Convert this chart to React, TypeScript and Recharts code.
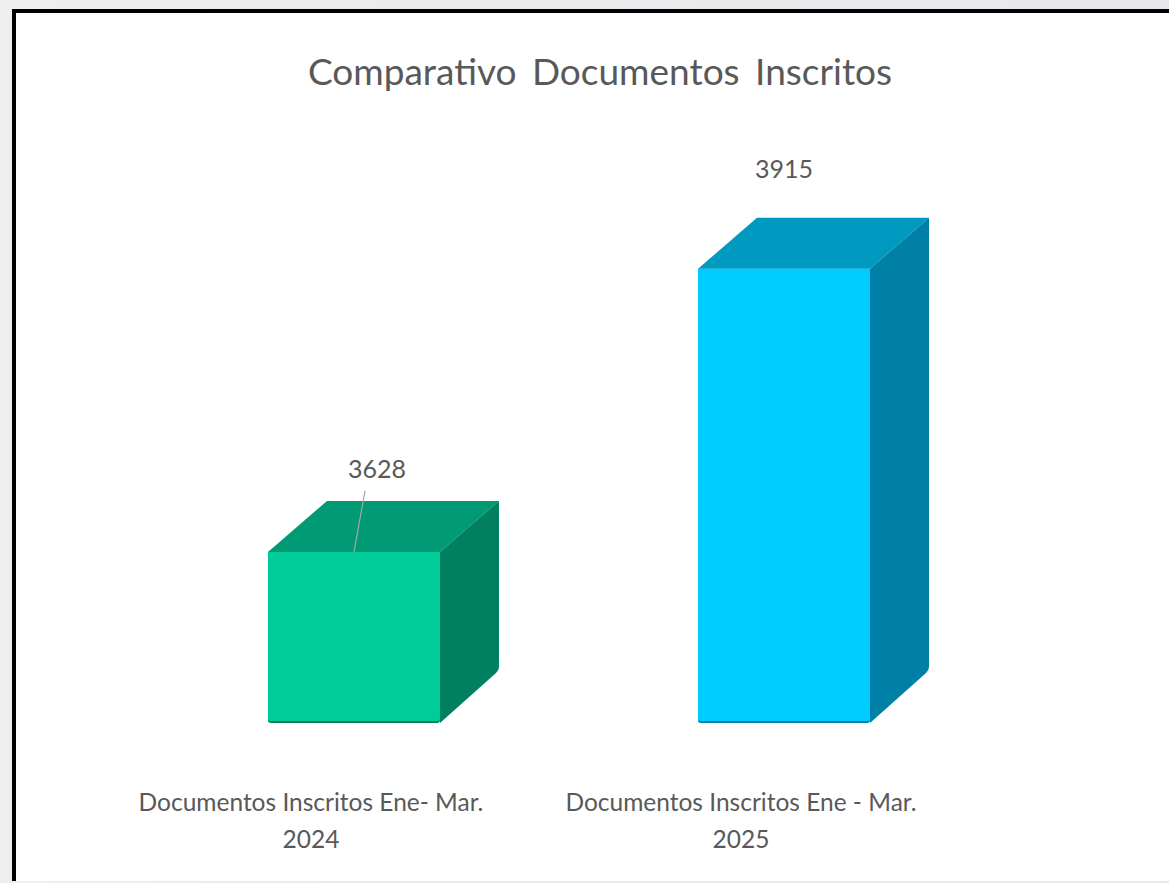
import React from "react";
import { BarChart, Bar, XAxis, YAxis } from "recharts";

const categories = ["Documentos Inscritos Ene- Mar. 2024", "Documentos Inscritos Ene - Mar. 2025"];
const values = [3628, 3915];

const FRONT = ["#00CC99", "#00CCFF"];
const TOP = ["#009A74", "#0099BF"];
const SIDE = ["#008060", "#0080A6"];
const EDGE = ["#00805F", "#0080A6"];
// where each value label sits relative to the top middle of its bar
const LABEL_OFFSET = [
  { dx: 23, dy: -74 },
  { dx: 0, dy: -91 },
];

const FONT = "Lato, 'Open Sans', sans-serif";
const TEXT_COLOR = "#595959";
const DEPTH_X = 59;
const DEPTH_Y = 51;

const data = categories.map((name, i) => ({ name, value: values[i] }));

const Box3D = (props: any) => {
  const { x, y, width, height, index } = props;
  const right = x + width;
  const bottom = y + height;
  const label = LABEL_OFFSET[index];
  const cx = x + width / 2;
  return (
    <g>
      <path
        d={`M${x} ${y} L${x + DEPTH_X} ${y - DEPTH_Y} H${right + DEPTH_X} L${right} ${y} Z`}
        fill={TOP[index]}
      />
      <path
        d={`M${right} ${y} L${right + DEPTH_X} ${y - DEPTH_Y} V${bottom - DEPTH_Y - 5} Q${right + DEPTH_X} ${bottom - DEPTH_Y - 2} ${right + DEPTH_X - 3} ${bottom - DEPTH_Y + 1} L${right} ${bottom} Z`}
        fill={SIDE[index]}
      />
      <path
        d={`M${x} ${y} H${right} V${bottom - 3} Q${right} ${bottom} ${right - 3} ${bottom} H${x + 3} Q${x} ${bottom} ${x} ${bottom - 3} Z`}
        fill={EDGE[index]}
      />
      <path
        d={`M${x} ${y} H${right} V${bottom - 4} Q${right} ${bottom - 2} ${right - 3} ${bottom - 2} H${x + 3} Q${x} ${bottom - 2} ${x} ${bottom - 4} Z`}
        fill={FRONT[index]}
      />
      {index === 0 && (
        <line
          x1={cx + label.dx - 12}
          y1={y - 61}
          x2={cx}
          y2={y}
          stroke="#A6A6A6"
          strokeWidth={1.2}
        />
      )}
      <text
        x={cx + label.dx}
        y={y + label.dy}
        textAnchor="middle"
        fontFamily={FONT}
        fontSize={25}
        fill={TEXT_COLOR}
      >
        {values[index]}
      </text>
    </g>
  );
};

const CategoryTick = (props: any) => {
  const { x, y, payload } = props;
  const cut = payload.value.lastIndexOf(" ");
  return (
    <g fontFamily={FONT} fontSize={24.5} fill={TEXT_COLOR} textAnchor="middle">
      <text x={x - 43} y={y + 80}>
        {payload.value.slice(0, cut)}
      </text>
      <text x={x - 43} y={y + 117}>
        {payload.value.slice(cut + 1)}
      </text>
    </g>
  );
};

export default function App() {
  return (
    <div
      style={{
        position: "absolute",
        left: 0,
        top: 0,
        width: 1169,
        height: 883,
        overflow: "hidden",
        background: "linear-gradient(90deg, #eeeeee, #e6e8ec)",
      }}
    >
      <div
        style={{
          position: "absolute",
          left: 12,
          top: 9,
          width: 1157,
          height: 872,
          boxSizing: "border-box",
          background: "#fff",
          borderLeft: "4px solid #000",
          borderTop: "4px solid #000",
        }}
      />
      <div style={{ position: "absolute", left: 0, top: 0 }}>
        <BarChart
          width={1169}
          height={883}
          data={data}
          margin={{ top: 185, right: 170, bottom: 0, left: 139 }}
        >
          <text
            x={600}
            y={85}
            textAnchor="middle"
            fontFamily={FONT}
            fontSize={37}
            wordSpacing={6}
            fill={TEXT_COLOR}
          >
            Comparativo Documentos Inscritos
          </text>
          <XAxis
            dataKey="name"
            axisLine={false}
            tickLine={false}
            interval={0}
            height={160}
            tick={<CategoryTick />}
          />
          <YAxis hide domain={[3454.5, 4000]} />
          <Bar dataKey="value" barSize={172} shape={<Box3D />} isAnimationActive={false} />
        </BarChart>
      </div>
    </div>
  );
}
